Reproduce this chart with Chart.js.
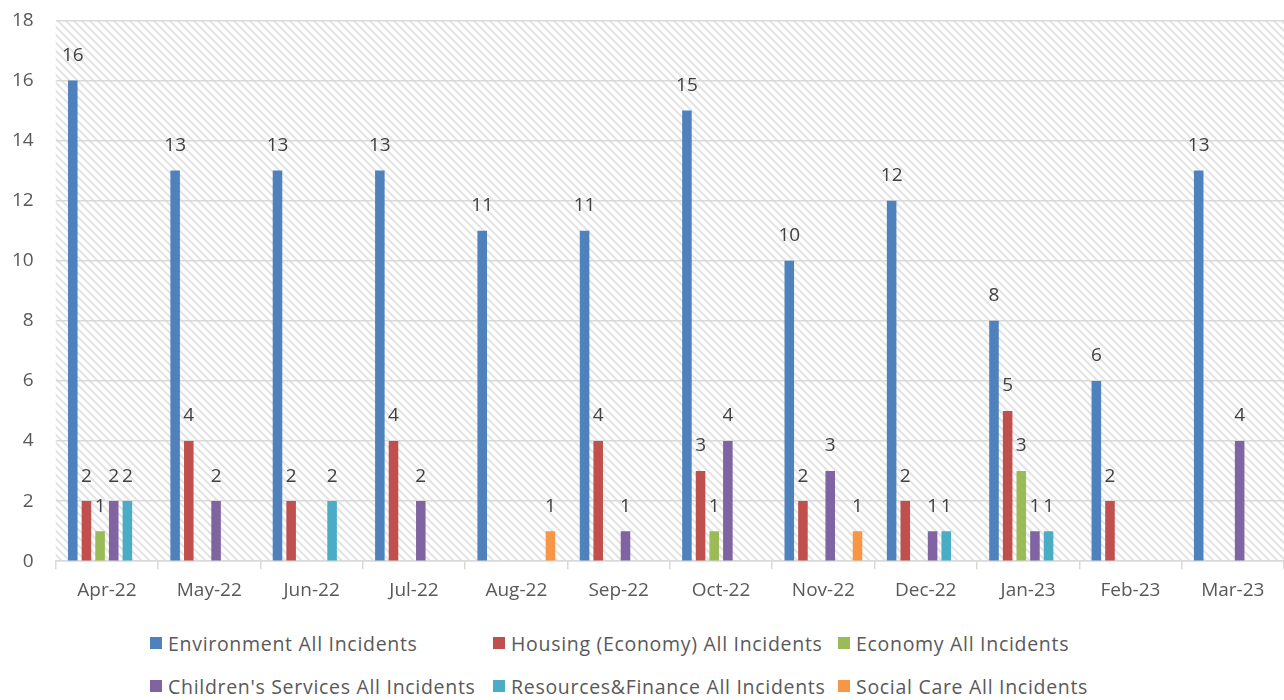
<!DOCTYPE html>
<html>
<head>
<meta charset="utf-8">
<script src="https://cdn.jsdelivr.net/npm/chart.js@4"></script>
<style>
  body { margin: 0; background: #fff; font-family: 'Open Sans', sans-serif; overflow: hidden; }
  #wrap { position: relative; width: 1284px; height: 625px; margin-top: -13px; }
  #legend { display: grid; grid-template-columns: 343px 345px 400px; margin-left: 150px; row-gap: 19px; margin-top: 19px; }
  .item { display: flex; align-items: center; font-size: 19.5px; letter-spacing: 0.7px; color: #595959; white-space: nowrap; height: 24px; }
  .sw { width: 12px; height: 12px; margin-right: 6px; }
</style>
</head>
<body>
<div id="wrap"><canvas id="chart"></canvas></div>
<div id="legend"></div>
<script>
// months on the x axis
const months = ['Apr-22', 'May-22', 'Jun-22', 'Jul-22', 'Aug-22', 'Sep-22',
                'Oct-22', 'Nov-22', 'Dec-22', 'Jan-23', 'Feb-23', 'Mar-23'];

// incidents per directorate (null = nothing reported)
const environment = [16, 13, 13, 13, 11, 11, 15, 10, 12, 8, 6, 13];
const housing     = [2, 4, 2, 4, null, 4, 3, 2, 2, 5, 2, null];
const economy     = [1, null, null, null, null, null, 1, null, null, 3, null, null];
const childrens   = [2, 2, null, 2, null, 1, 4, 3, 1, 1, null, 4];
const resources   = [2, null, 2, null, null, null, null, null, 1, 1, null, null];
const socialCare  = [null, null, null, null, 1, null, null, 1, null, null, null, null];

const yTicks = [0, 2, 4, 6, 8, 10, 12, 14, 16, 18];

const seriesNames = [
  'Environment All Incidents', 'Housing (Economy) All Incidents', 'Economy All Incidents',
  "Children's Services All Incidents", 'Resources&Finance All Incidents', 'Social Care All Incidents'
];
const seriesData = [environment, housing, economy, childrens, resources, socialCare];
const colors = ['#4F81BD', '#C0504D', '#9BBB59', '#8064A2', '#4BACC6', '#F79646'];

const font = "'Open Sans', sans-serif";

function hatchPattern(ctx) {
  const c = document.createElement('canvas');
  c.width = 8; c.height = 8;
  const g = c.getContext('2d');
  g.fillStyle = '#fff';
  g.fillRect(0, 0, 8, 8);
  g.strokeStyle = '#e4e4e4';
  g.lineWidth = 2.2;
  g.beginPath();
  g.moveTo(-4, -4); g.lineTo(12, 12);
  g.moveTo(-4, 4); g.lineTo(4, 12);
  g.moveTo(4, -4); g.lineTo(12, 4);
  g.stroke();
  return ctx.createPattern(c, 'repeat');
}

// hatched plot background
const background = {
  id: 'background',
  beforeDraw(chart) {
    const { ctx, chartArea: a } = chart;
    ctx.save();
    ctx.fillStyle = hatchPattern(ctx);
    ctx.fillRect(a.left, a.top, a.right - a.left, a.bottom - a.top);
    ctx.restore();
  }
};

// value labels above bars
const valueLabels = {
  id: 'valueLabels',
  afterDatasetsDraw(chart) {
    const ctx = chart.ctx;
    ctx.save();
    ctx.font = '19px ' + font;
    ctx.fillStyle = '#404040';
    ctx.textAlign = 'center';
    ctx.textBaseline = 'middle';
    chart.data.datasets.forEach((ds, i) => {
      const meta = chart.getDatasetMeta(i);
      meta.data.forEach((bar, j) => {
        const v = ds.data[j];
        if (v == null) return;
        ctx.fillText(String(v), bar.x, bar.y - 25);
      });
    });
    ctx.restore();
  }
};

const datasets = seriesNames.map((name, i) => ({
  label: name,
  data: seriesData[i],
  backgroundColor: colors[i],
  categoryPercentage: 0.8,
  barPercentage: 0.7
}));

new Chart(document.getElementById('chart'), {
  type: 'bar',
  data: { labels: months, datasets },
  options: {
    responsive: true,
    maintainAspectRatio: false,
    animation: false,
    layout: { padding: { top: 0, left: -10, right: 0, bottom: 0 } },
    plugins: {
      legend: { display: false },
      tooltip: { enabled: false }
    },
    scales: {
      x: {
        grid: { display: true, drawOnChartArea: false, offset: true, tickLength: 8, color: '#d9d9d9', lineWidth: 1.5 },
        border: { display: true, color: '#d9d9d9', width: 1.5 },
        ticks: { color: '#595959', font: { family: font, size: 19 }, padding: 10, maxRotation: 0 }
      },
      y: {
        min: 0,
        max: 18,
        afterBuildTicks: axis => { axis.ticks = yTicks.map(v => ({ value: v })); },
        grid: { color: '#d9d9d9', lineWidth: 1.5, drawTicks: false },
        border: { display: false },
        ticks: { color: '#595959', font: { family: font, size: 19 }, padding: 22 }
      }
    }
  },
  plugins: [background, valueLabels]
});

// legend laid out in three columns like the original
const legend = document.getElementById('legend');
seriesNames.forEach((name, i) => {
  const el = document.createElement('div');
  el.className = 'item';
  el.innerHTML = '<span class="sw" style="background:' + colors[i] + '"></span><span></span>';
  el.lastChild.textContent = name;
  legend.appendChild(el);
});
</script>
</body>
</html>
